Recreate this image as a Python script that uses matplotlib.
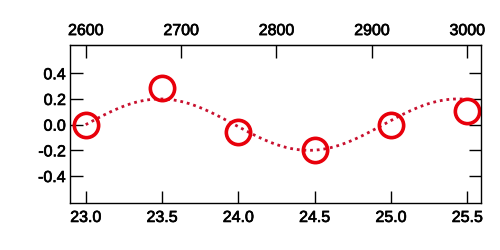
import numpy as np
import matplotlib
matplotlib.use("Agg")
import matplotlib.pyplot as plt
import matplotlib.patheffects as pe

plt.rcParams['font.family'] = ['Liberation Sans', 'DejaVu Sans']

# data points
x_pts = [23.0, 23.5, 24.0, 24.5, 25.0, 25.5]
y_pts = [0.0, 0.285, -0.057, -0.2, -0.005, 0.104]

# fitted sine model parameters
fit_amp = 0.2
fit_period = 1.95
fit_x0 = 23.0
fit_range = (23.0, 25.5)

bottom_ticks = [23.0, 23.5, 24.0, 24.5, 25.0, 25.5]
top_ticks = [2600, 2700, 2800, 2900, 3000]
y_ticks = [-0.4, -0.2, 0.0, 0.2, 0.4]

# secondary (top) axis mapping: 23.0 -> 2600, 25.5 -> 3000
top_ref = (23.0, 2600)
top_scale = 160.0

fig = plt.figure(figsize=(5, 2.5), dpi=100)
ax = fig.add_axes([0.14, 0.188, 0.822, 0.632])

xf = np.linspace(fit_range[0], fit_range[1], 300)
yf = fit_amp * np.sin(2 * np.pi * (xf - fit_x0) / fit_period)
ax.plot(xf, yf, color='#c8102e', lw=2, linestyle=(0, (1, 1.4)))
ax.plot(x_pts, y_pts, 'o', ms=17.5, mfc='none', mec='#e8000b', mew=2.6)

ax.set_xlim(22.897, 25.59)
ax.set_ylim(-0.61, 0.62)
ax.set_xticks(bottom_ticks)
ax.set_xticklabels([f"{v:.1f}" for v in bottom_ticks])
ax.set_yticks(y_ticks)
ax.set_yticklabels([f"{v:.1f}" for v in y_ticks])
ax.tick_params(direction='in', length=9, width=1, labelsize=11.5, right=True, labelright=False)
ax.tick_params(axis='x', pad=5)
ax.tick_params(axis='y', pad=3)

sec = ax.secondary_xaxis('top', functions=(lambda x: top_ref[1] + (x - top_ref[0]) * top_scale,
                                          lambda t: top_ref[0] + (t - top_ref[1]) / top_scale))
sec.set_xticks(top_ticks)
sec.tick_params(direction='in', length=9, width=1, labelsize=11.5, pad=5)

for lab in ax.get_xticklabels() + ax.get_yticklabels() + sec.get_xticklabels():
    lab.set_path_effects([pe.withStroke(linewidth=0.5, foreground='black')])

for s in ax.spines.values():
    s.set_linewidth(1)

fig.savefig('out.png', dpi=100)
